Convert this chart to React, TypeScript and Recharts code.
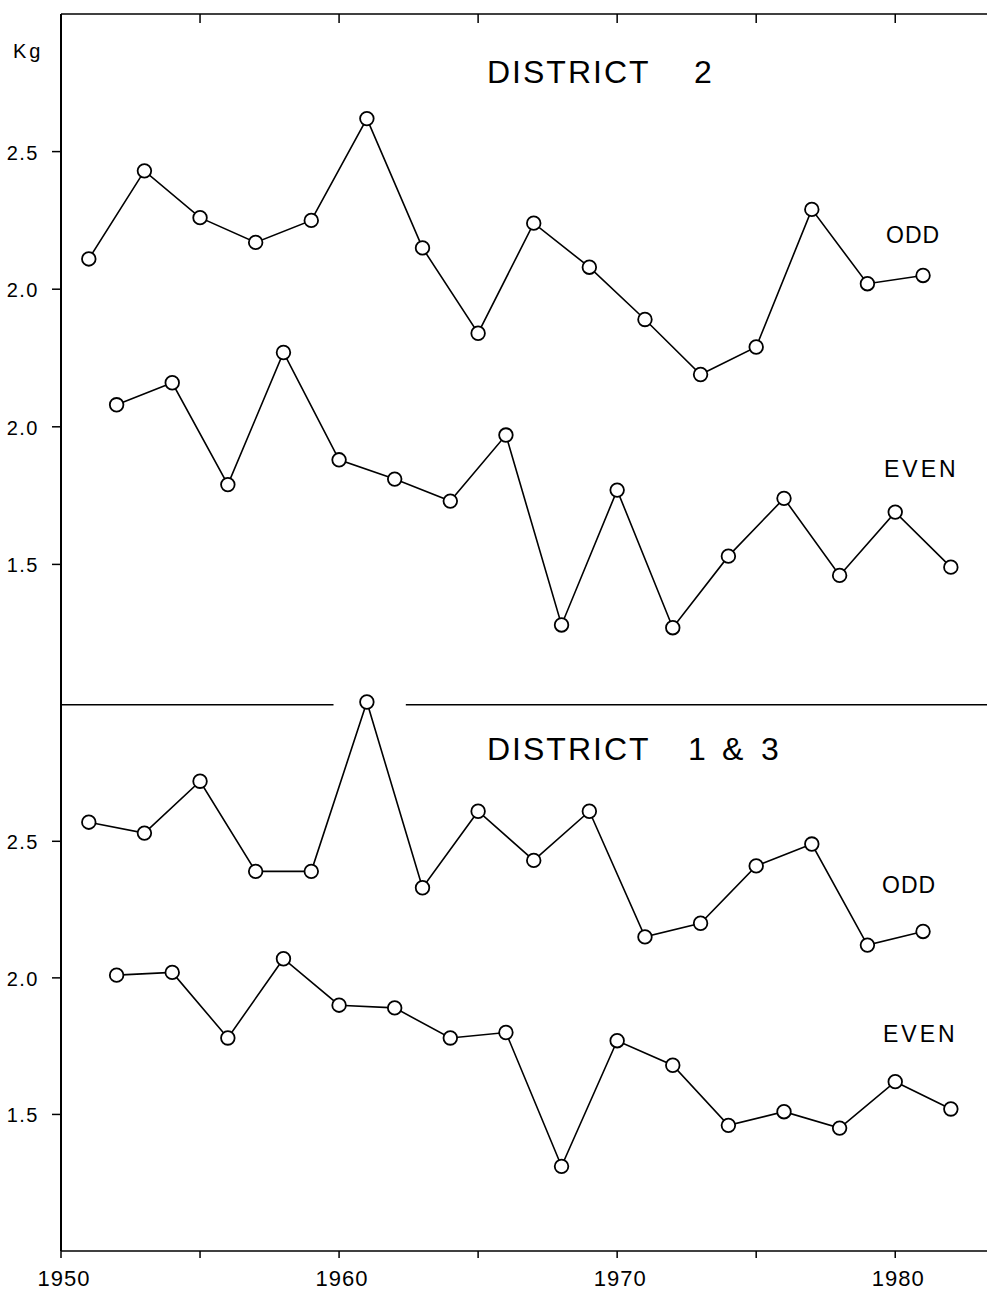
import { LineChart, Line, XAxis, YAxis, ReferenceLine } from "recharts";

// years of the two series
const oddYears = [1951, 1953, 1955, 1957, 1959, 1961, 1963, 1965, 1967, 1969, 1971, 1973, 1975, 1977, 1979, 1981];
const evenYears = [1952, 1954, 1956, 1958, 1960, 1962, 1964, 1966, 1968, 1970, 1972, 1974, 1976, 1978, 1980, 1982];

// mean weight (kg)
const district2Odd = [2.11, 2.43, 2.26, 2.17, 2.25, 2.62, 2.15, 1.84, 2.24, 2.08, 1.89, 1.69, 1.79, 2.29, 2.02, 2.05];
const district2Even = [2.08, 2.16, 1.79, 2.27, 1.88, 1.81, 1.73, 1.97, 1.28, 1.77, 1.27, 1.53, 1.74, 1.46, 1.69, 1.49];
const district13Odd = [2.57, 2.53, 2.72, 2.39, 2.39, 3.01, 2.33, 2.61, 2.43, 2.61, 2.15, 2.2, 2.41, 2.49, 2.12, 2.17];
const district13Even = [2.01, 2.02, 1.78, 2.07, 1.9, 1.89, 1.78, 1.8, 1.31, 1.77, 1.68, 1.46, 1.51, 1.45, 1.62, 1.52];

// axis ticks
const xTicks = [1950, 1955, 1960, 1965, 1970, 1975, 1980];
const xTickLabels = [1950, 1960, 1970, 1980];
// top panel: one axis, the lower two ticks are read on the (shifted) even scale
const topTicks = [1.0, 1.5, 2.0, 2.5];
const topTickLabels = ["1.5", "2.0", "2.0", "2.5"];
const bottomTicks = [1.5, 2.0, 2.5];
const bottomTickLabels = ["1.5", "2.0", "2.5"];

const xDomain = [1950, 1983.3];
const separatorGap = [1959.8, 1962.4];

const FONT = "'Liberation Sans', Arial, sans-serif";
const INK = "#000";

const toRows = (years: number[], values: number[]) => years.map((year, i) => ({ year, kg: values[i] }));

const dotStyle = { r: 6.8, fill: "#fff", stroke: INK, strokeWidth: 1.8 };

const makeYTick = (ticks: number[], labels: string[]) => (props: any) => {
    const { x, y, payload } = props;
    const i = ticks.indexOf(payload.value);
    return (
        <text x={x} y={y + 8} textAnchor="end" fontSize={20} fontFamily={FONT} letterSpacing={1.5} fill={INK}>
            {i >= 0 ? labels[i] : ""}
        </text>
    );
};

// inner tick marks on the top frame
const TopTick = (props: any) => {
    const { x, y, payload } = props;
    if (payload.value === xTicks[0]) return <g />;
    return <line x1={x} x2={x} y1={y} y2={y + 9} stroke={INK} strokeWidth={1.5} />;
};

const XTick = (props: any) => {
    const { x, y, payload } = props;
    if (!xTickLabels.includes(payload.value)) return <g />;
    return (
        <text x={x + 3} y={y + 24} textAnchor="middle" fontSize={22} fontFamily={FONT} letterSpacing={1} fill={INK}>
            {payload.value}
        </text>
    );
};

function App() {
    return (
        <div style={{ position: "absolute", left: 0, top: 0, width: 987, height: 1291, background: "#fff" }}>
            {/* DISTRICT 2 */}
            <div style={{ position: "absolute", left: 0, top: 0 }}>
                <LineChart width={987} height={710} margin={{ top: 10, right: 0, bottom: 8, left: 0 }}>
                    <XAxis
                        dataKey="year"
                        type="number"
                        orientation="top"
                        domain={xDomain}
                        allowDataOverflow
                        ticks={xTicks}
                        tick={TopTick}
                        tickLine={false}
                        tickSize={0}
                        tickMargin={0}
                        height={4}
                        axisLine={{ stroke: INK, strokeWidth: 1.5 }}
                    />
                    <YAxis
                        yAxisId="odd"
                        type="number"
                        domain={[0.5, 3.0]}
                        ticks={topTicks}
                        width={61}
                        tickSize={9}
                        tickMargin={13}
                        tick={makeYTick(topTicks, topTickLabels)}
                        axisLine={{ stroke: INK, strokeWidth: 2 }}
                        tickLine={{ stroke: INK, strokeWidth: 1.5 }}
                    />
                    {/* even years sit on a scale shifted by 0.5 kg */}
                    <YAxis yAxisId="even" orientation="right" type="number" domain={[1.0, 3.5]} hide />
                    <Line yAxisId="odd" data={toRows(oddYears, district2Odd)} dataKey="kg" stroke={INK} strokeWidth={1.6} dot={dotStyle} activeDot={false} isAnimationActive={false} />
                    <Line yAxisId="even" data={toRows(evenYears, district2Even)} dataKey="kg" stroke={INK} strokeWidth={1.6} dot={dotStyle} activeDot={false} isAnimationActive={false} />
                </LineChart>
            </div>

            {/* DISTRICT 1 & 3 */}
            <div style={{ position: "absolute", left: 0, top: 680 }}>
                <LineChart width={987} height={611} margin={{ top: 22, right: 0, bottom: 0, left: 0 }}>
                    <XAxis
                        dataKey="year"
                        type="number"
                        domain={xDomain}
                        allowDataOverflow
                        ticks={xTicks}
                        tick={XTick}
                        tickSize={7}
                        tickMargin={4}
                        height={40}
                        axisLine={{ stroke: INK, strokeWidth: 1.5 }}
                        tickLine={{ stroke: INK, strokeWidth: 1.5 }}
                    />
                    <YAxis
                        type="number"
                        domain={[1.0, 3.0]}
                        ticks={bottomTicks}
                        width={61}
                        tickSize={9}
                        tickMargin={13}
                        tick={makeYTick(bottomTicks, bottomTickLabels)}
                        axisLine={{ stroke: INK, strokeWidth: 2 }}
                        tickLine={{ stroke: INK, strokeWidth: 1.5 }}
                    />
                    <ReferenceLine segment={[{ x: xDomain[0], y: 3.0 }, { x: separatorGap[0], y: 3.0 }]} stroke={INK} strokeWidth={1.5} />
                    <ReferenceLine segment={[{ x: separatorGap[1], y: 3.0 }, { x: xDomain[1], y: 3.0 }]} stroke={INK} strokeWidth={1.5} />
                    <Line data={toRows(oddYears, district13Odd)} dataKey="kg" stroke={INK} strokeWidth={1.6} dot={dotStyle} activeDot={false} isAnimationActive={false} />
                    <Line data={toRows(evenYears, district13Even)} dataKey="kg" stroke={INK} strokeWidth={1.6} dot={dotStyle} activeDot={false} isAnimationActive={false} />
                </LineChart>
            </div>

            {/* labels */}
            <svg width={987} height={1291} style={{ position: "absolute", left: 0, top: 0, pointerEvents: "none" }}>
                <g fontFamily={FONT} fill={INK}>
                    <text x={13} y={58} fontSize={20} letterSpacing={3}>Kg</text>
                    <text x={487} y={83} fontSize={32} letterSpacing={2}>DISTRICT</text>
                    <text x={694} y={83} fontSize={32}>2</text>
                    <text x={886} y={243} fontSize={23} letterSpacing={1}>ODD</text>
                    <text x={884} y={477} fontSize={23} letterSpacing={3}>EVEN</text>
                    <text x={487} y={760} fontSize={32} letterSpacing={2}>DISTRICT</text>
                    <text x={688} y={760} fontSize={32}>1</text>
                    <text x={722} y={760} fontSize={32}>&amp;</text>
                    <text x={761} y={760} fontSize={32}>3</text>
                    <text x={882} y={893} fontSize={23} letterSpacing={1}>ODD</text>
                    <text x={883} y={1042} fontSize={23} letterSpacing={3}>EVEN</text>
                </g>
            </svg>
        </div>
    );
}

export default App;
